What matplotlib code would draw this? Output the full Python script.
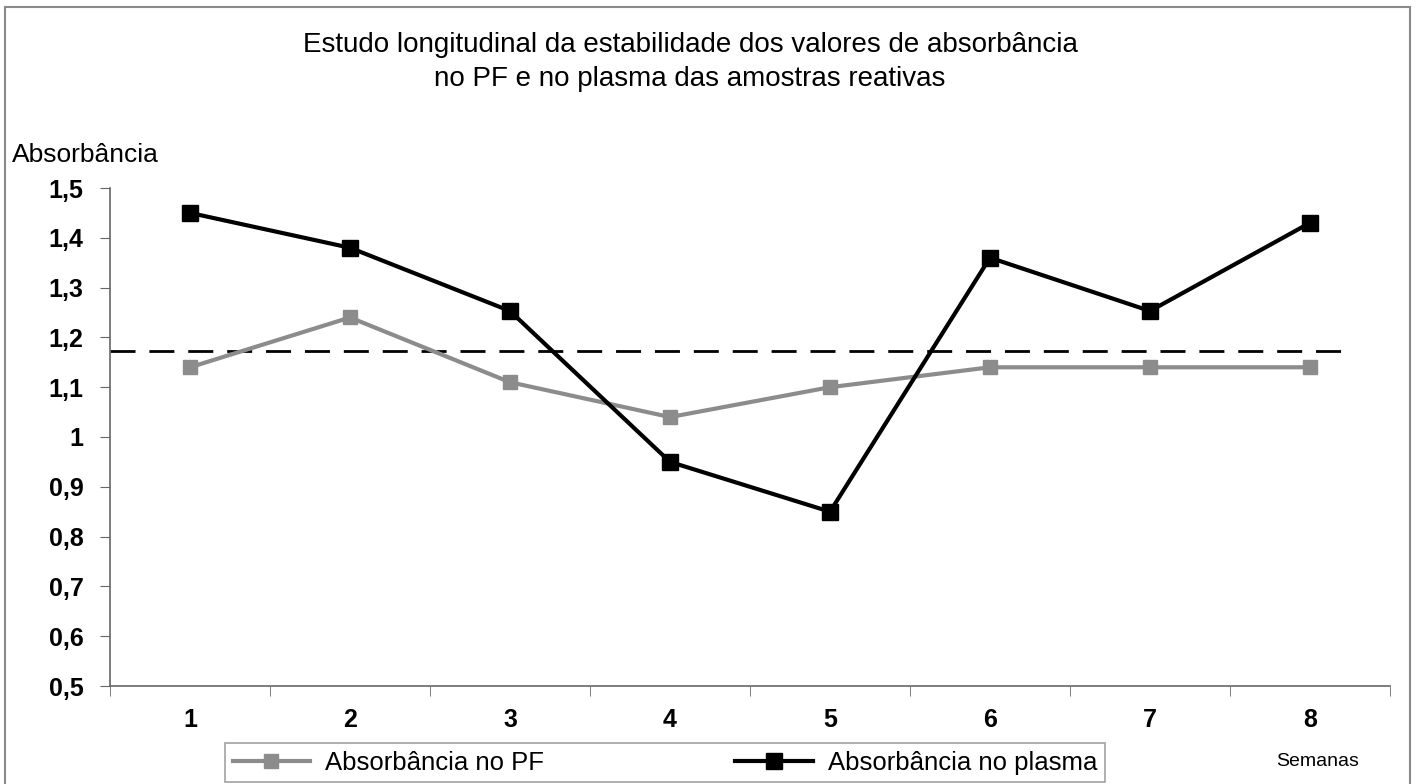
import matplotlib.pyplot as plt
from matplotlib.patches import Rectangle

plt.rcParams['font.family'] = ['Liberation Sans', 'DejaVu Sans']

# Data
semanas = [1, 2, 3, 4, 5, 6, 7, 8]
abs_pf = [1.14, 1.24, 1.11, 1.04, 1.10, 1.14, 1.14, 1.14]
abs_plasma = [1.45, 1.38, 1.253, 0.95, 0.85, 1.36, 1.253, 1.43]
limiar = 1.172
yticks = [0.5, 0.6, 0.7, 0.8, 0.9, 1.0, 1.1, 1.2, 1.3, 1.4, 1.5]
ytick_labels = ['0,5', '0,6', '0,7', '0,8', '0,9', '1', '1,1', '1,2', '1,3', '1,4', '1,5']

fig = plt.figure(figsize=(14.18, 7.84), dpi=100)
ax = fig.add_axes([110 / 1418, 1 - 686 / 784, 1280 / 1418, 498 / 784])

# outer frame
fig.patches.append(Rectangle((5 / 1418, -0.05), 1405 / 1418, 1 - 7 / 784 + 0.05,
                             transform=fig.transFigure, fill=False,
                             edgecolor='#8a8a8a', linewidth=1.5))

ax.plot(semanas, abs_pf, color='#8c8c8c', linewidth=3, marker='s',
        markersize=10, label='Absorbância no PF', zorder=3)
ax.plot(semanas, abs_plasma, color='black', linewidth=3, marker='s',
        markersize=11, label='Absorbância no plasma', zorder=4)
ax.plot([0.5, 8.23], [limiar, limiar], color='black', linewidth=2,
        dashes=(9, 5), zorder=2)

ax.set_xlim(0.5, 8.5)
ax.set_ylim(0.5, 1.5)
ax.set_yticks(yticks)
ax.set_yticklabels(ytick_labels, fontsize=18, fontweight='bold')
ax.set_xticks(semanas)
ax.set_xticklabels([str(s) for s in semanas], fontsize=18, fontweight='bold')
ax.tick_params(axis='x', length=0, pad=16)
ax.set_xticks([x + 0.5 for x in range(0, 9)], minor=True)
ax.tick_params(axis='x', which='minor', length=7, color='#666666')
ax.tick_params(axis='y', length=7, color='#666666', pad=12)

for s in ['top', 'right']:
    ax.spines[s].set_visible(False)
for s in ['left', 'bottom']:
    ax.spines[s].set_color('#666666')
    ax.spines[s].set_linewidth(1.2)

fig.text(690 / 1418, 1 - 62 / 784,
         'Estudo longitudinal da estabilidade dos valores de absorbância\n'
         'no PF e no plasma das amostras reativas',
         ha='center', va='center', fontsize=20, linespacing=1.4)
fig.text(12 / 1418, 1 - 155 / 784, 'Absorbância', ha='left', va='center',
         fontsize=19)
fig.text(1318 / 1418, 1 - 762 / 784, 'Semanas', ha='center', va='center',
         fontsize=14)

leg = fig.legend(loc='upper left', bbox_to_anchor=(225 / 1418, 1 - 743 / 784, 880 / 1418, 0.0),
                 mode='expand', ncol=2, fontsize=18.5, frameon=True, fancybox=False,
                 handlelength=3.0, handletextpad=0.6, borderaxespad=0,
                 borderpad=0.3)
leg.get_frame().set_edgecolor('#8a8a8a')
leg.get_frame().set_linewidth(1.2)

fig.savefig('out.png', dpi=100)
